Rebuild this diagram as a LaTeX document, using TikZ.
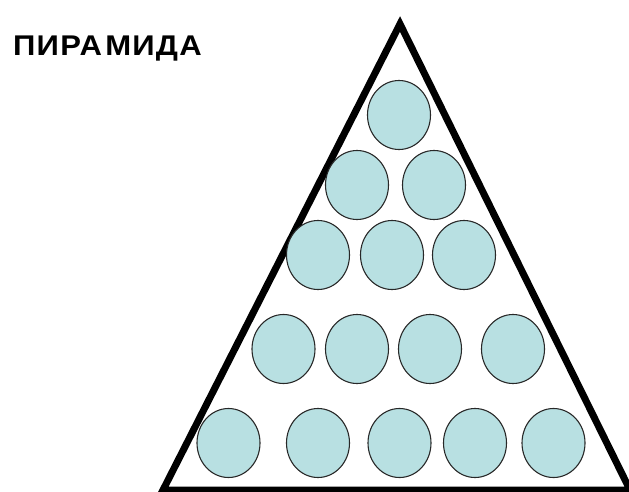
\documentclass[tikz,border=0pt]{standalone}
\usepackage{fontspec}
\usepackage{graphicx}
\setmainfont{Liberation Sans}
\newfontfamily\titlefont[LetterSpace=4]{Liberation Sans}
\usetikzlibrary{shapes.geometric}
\definecolor{ballfill}{RGB}{184,224,226}
\definecolor{balledge}{RGB}{40,40,40}
\tikzset{
  ball/.style={ellipse, draw=balledge, line width=1.1pt, fill=ballfill,
    minimum width=63pt, minimum height=69pt, inner sep=0pt},
  frame/.style={line width=7pt, line join=miter, draw=black},
  titletext/.style={font=\titlefont\bfseries\fontsize{28.5}{30}\selectfont, inner sep=0pt, anchor=base west}
}
\begin{document}
\begin{tikzpicture}[x=1pt,y=-1pt]
\useasboundingbox (0,0) rectangle (629,492);
\clip (0,0) rectangle (629,492);
\coordinate (apex) at (400,24);
\coordinate (bl) at (163,490);
\coordinate (br) at (630,490);
\draw[frame] (apex) -- (bl) -- (br) -- cycle;
% row 1
\node[ball] (b11) at (399,115) {};
% row 2
\node[ball] (b21) at (357,185) {};
\node[ball] (b22) at (434,185) {};
% row 3
\node[ball] (b31) at (318,255) {};
\node[ball] (b32) at (392,255) {};
\node[ball] (b33) at (464,255) {};
% row 4
\node[ball] (b41) at (283.5,349) {};
\node[ball] (b42) at (357,349) {};
\node[ball] (b43) at (430,349) {};
\node[ball] (b44) at (513,349) {};
% row 5
\node[ball] (b51) at (228.5,443) {};
\node[ball] (b52) at (318,443) {};
\node[ball] (b53) at (399.5,443) {};
\node[ball] (b54) at (475,443) {};
\node[ball] (b55) at (553.5,443) {};
\node[titletext] (title) at (13,56) {\scalebox{1.09}[1]{ПИРА\kern3ptМИДА}};
\end{tikzpicture}
\end{document}
